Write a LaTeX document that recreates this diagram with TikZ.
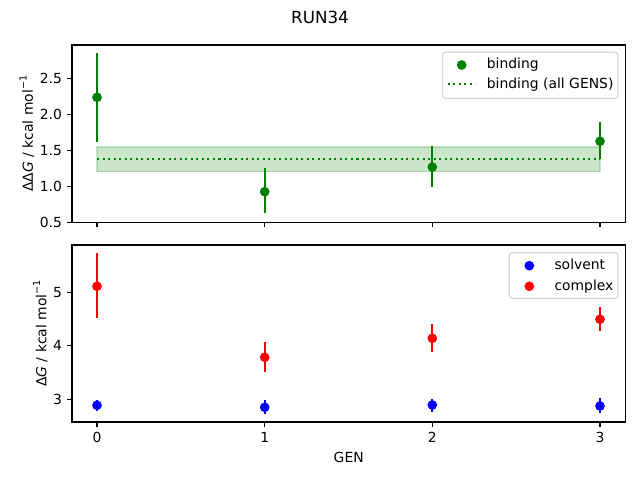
\documentclass[tikz,border=0pt]{standalone}
\usepackage{fontspec}
\setmainfont{DejaVu Sans}
\definecolor{mgreen}{HTML}{008000}
\definecolor{mblue}{HTML}{0000FF}
\definecolor{mred}{HTML}{FF0000}
\definecolor{legedge}{HTML}{D6D6D6}
\newcommand{\supm}{\raisebox{0.45em}{\fontsize{9.7}{10}\selectfont −1}}
\begin{document}
\begin{tikzpicture}[x=1pt,y=-1pt,
  frame/.style={line width=1.1pt, draw=black},
  tick/.style={line width=1.1pt},
  ebar/.style={line width=2.1pt},
  lab/.style={inner sep=0pt, font=\fontsize{13.9}{16}\selectfont},
  ttl/.style={inner sep=0pt, font=\fontsize{16.7}{19}\selectfont},
  leg/.style={draw=legedge, line width=1.2pt, fill=white, fill opacity=0.8, rounded corners=2.8pt},
  dotl/.style={line width=2.08pt, dash pattern=on 2.08pt off 3.44pt, mgreen}]
\useasboundingbox (0,0) rectangle (640,480);
\def\XA{97}\def\XB{264.7}\def\XC{432.3}\def\XD{600}
\def\R{4.85}
% ---------- top axes ----------
\fill[mgreen, opacity=0.2] (\XA,147) rectangle (\XD,171.7);
\draw[mgreen, opacity=0.2, line width=1.2pt] (\XA,147) rectangle (\XD,171.7);
% error bars
\draw[ebar, mgreen] (\XA,53.3) -- (\XA,141.7);
\draw[ebar, mgreen] (\XB,168) -- (\XB,213.3);
\draw[ebar, mgreen] (\XC,146.3) -- (\XC,187.3);
\draw[ebar, mgreen] (\XD,122) -- (\XD,159.3);
\fill[mgreen] (\XA,97.3) circle (\R);
\fill[mgreen] (\XB,191.7) circle (\R);
\fill[mgreen] (\XC,167) circle (\R);
\fill[mgreen] (\XD,141.3) circle (\R);
\draw[dotl] (\XA,158.7) -- (\XD,158.7);
% frame
\draw[frame] (72,45) rectangle (625.3,222.3);
\foreach \x in {\XA,\XB,\XC,\XD} \draw[tick] (\x,222.3) -- (\x,227.2);
\foreach \y/\t in {78.3/2.5,114.3/2.0,150.3/1.5,186.3/1.0,222.3/0.5} {
  \draw[tick] (72,\y) -- (67.1,\y);
  \node[lab, anchor=base east] at (62.2,\y+4.8) {\t};
}
\node[lab, rotate=90, anchor=south] (ylt) at (34.4,133.6) {ΔΔ{\itshape G} / kcal mol\supm};
% legend top
\draw[leg] (442.5,52.3) rectangle (618,98.3);
\fill[mgreen] (461.7,65) circle (\R);
\draw[dotl] (447.7,84.3) -- (475.3,84.3);
\node[lab, anchor=base west] (lb1) at (486.7,68.7) {binding};
\node[lab, anchor=base west] (lb2) at (486.7,88.3) {binding (all GENS)};
% ---------- bottom axes ----------
% solvent
\draw[ebar, mblue] (\XA,399.7) -- (\XA,410.7);
\draw[ebar, mblue] (\XB,400.3) -- (\XB,413.7);
\draw[ebar, mblue] (\XC,399.3) -- (\XC,412);
\draw[ebar, mblue] (\XD,398) -- (\XD,413);
\fill[mblue] (\XA,405.3) circle (\R);
\fill[mblue] (\XB,407.3) circle (\R);
\fill[mblue] (\XC,405) circle (\R);
\fill[mblue] (\XD,406) circle (\R);
% complex
\draw[ebar, mred] (\XA,253.3) -- (\XA,317.7);
\draw[ebar, mred] (\XB,342.3) -- (\XB,372.3);
\draw[ebar, mred] (\XC,324.3) -- (\XC,351.7);
\draw[ebar, mred] (\XD,307) -- (\XD,330.7);
\fill[mred] (\XA,286.3) circle (\R);
\fill[mred] (\XB,357.3) circle (\R);
\fill[mred] (\XC,338.3) circle (\R);
\fill[mred] (\XD,319.3) circle (\R);
% frame
\draw[frame] (72,245) rectangle (625.3,422);
\foreach \x/\t in {\XA/0,\XB/1,\XC/2,\XD/3} {
  \draw[tick] (\x,422) -- (\x,426.9);
  \node[lab, anchor=base] at (\x,442.5) {\t};
}
\foreach \y/\t in {292.3/5,345.8/4,399.3/3} {
  \draw[tick] (72,\y) -- (67.1,\y);
  \node[lab, anchor=base east] at (62.2,\y+4.8) {\t};
}
\node[lab, rotate=90, anchor=south] (ylb) at (47.8,333.5) {Δ{\itshape G} / kcal mol\supm};
\node[lab, anchor=base] (xl) at (348.7,462.7) {GEN};
% legend bottom
\draw[leg] (509.3,252.7) rectangle (618,298.3);
\fill[mblue] (529.3,265.7) circle (\R);
\fill[mred] (529.3,286.3) circle (\R);
\node[lab, anchor=base west] (ls1) at (554.3,269.4) {solvent};
\node[lab, anchor=base west] (ls2) at (554.3,290) {complex};
% title
\node[ttl, anchor=base] (title) at (320,23) {RUN34};
\end{tikzpicture}
\end{document}
